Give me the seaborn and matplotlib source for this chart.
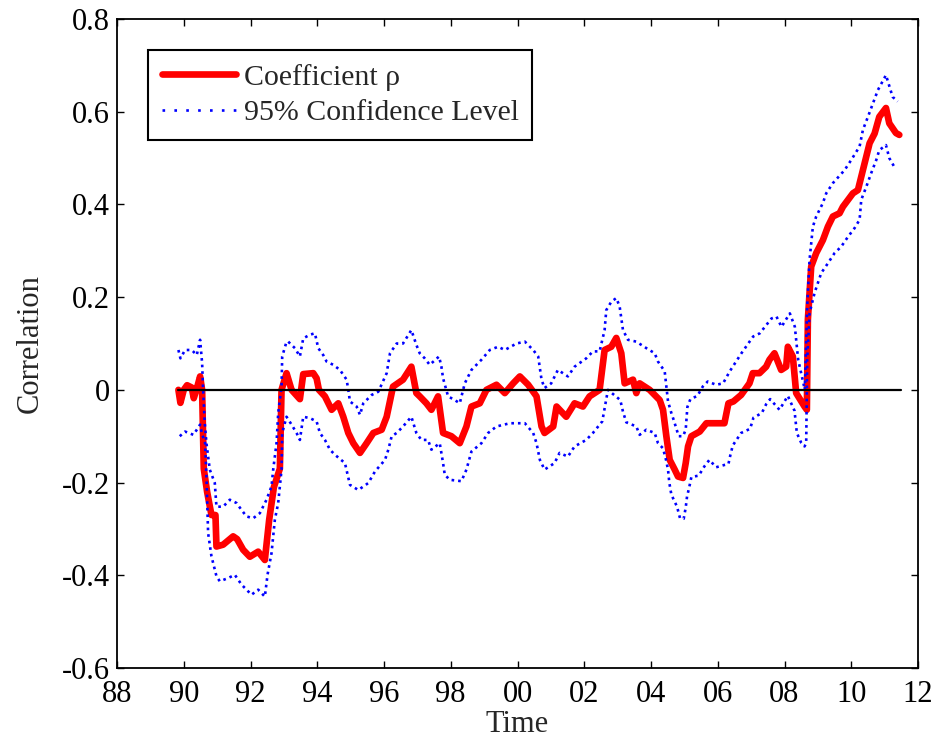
import numpy as np
import pandas as pd
import matplotlib
matplotlib.use("Agg")
import matplotlib.pyplot as plt
import seaborn as sns

# ---- data (years as two-digit continuous values: 100 = 2000) ----
rho_t = [89.84, 89.90, 90.00, 90.10, 90.24, 90.30, 90.40, 90.49, 90.55, 90.60, 90.70, 90.83, 90.95,
         90.98, 91.18, 91.48, 91.60, 91.78, 91.98, 92.23, 92.43, 92.56, 92.70, 92.88, 92.93, 93.08,
         93.23, 93.48, 93.58, 93.88, 93.98, 94.05, 94.23, 94.43, 94.63, 94.78, 94.93, 95.08, 95.28,
         95.48, 95.68, 95.93, 96.08, 96.27, 96.57, 96.82, 96.97, 97.07, 97.27, 97.42, 97.62, 97.77,
         98.02, 98.27, 98.47, 98.62, 98.87, 99.07, 99.37, 99.62, 99.87, 100.07, 100.32, 100.57,
         100.72, 100.81, 101.07, 101.17, 101.46, 101.71, 101.96, 102.16, 102.46, 102.61, 102.81,
         102.96, 103.11, 103.21, 103.46, 103.56, 103.66, 103.96, 104.26, 104.36, 104.46, 104.56,
         104.71, 104.81, 104.96, 105.04, 105.11, 105.21, 105.46, 105.66, 106.05, 106.20, 106.32,
         106.47, 106.70, 106.95, 107.05, 107.25, 107.45, 107.55, 107.70, 107.90, 108.05, 108.10,
         108.25, 108.35, 108.60, 108.67, 108.70, 108.80, 108.95, 109.15, 109.30, 109.45, 109.65,
         109.75, 110.05, 110.20, 110.35, 110.55, 110.70, 110.84, 111.04, 111.14, 111.34, 111.44]
rho_v = [0.000, -0.028, 0.000, 0.010, 0.005, -0.018, 0.005, 0.029, 0.000, -0.170, -0.220, -0.270, -0.270,
         -0.338, -0.334, -0.316, -0.322, -0.345, -0.360, -0.349, -0.367, -0.280, -0.210, -0.170, 0.000, 0.036,
         0.000, -0.020, 0.034, 0.036, 0.025, 0.000, -0.014, -0.043, -0.029, -0.058, -0.093, -0.115, -0.136,
         -0.115, -0.093, -0.086, -0.058, 0.007, 0.022, 0.050, -0.007, -0.014, -0.029, -0.043, -0.014, -0.093,
         -0.100, -0.115, -0.079, -0.036, -0.029, 0.000, 0.011, -0.007, 0.014, 0.029, 0.011, -0.014,
         -0.079, -0.093, -0.079, -0.036, -0.058, -0.029, -0.036, -0.014, 0.000, 0.086, 0.093,
         0.112, 0.079, 0.014, 0.022, -0.007, 0.014, 0.000, -0.022, -0.043, -0.100, -0.151,
         -0.172, -0.187, -0.190, -0.158, -0.122, -0.100, -0.090, -0.072, -0.072, -0.072, -0.029,
         -0.025, -0.011, 0.014, 0.036, 0.036, 0.050, 0.065, 0.079, 0.043, 0.050, 0.093,
         0.072, -0.007, -0.036, -0.043, 0.151, 0.266, 0.295, 0.323, 0.352, 0.374, 0.381,
         0.395, 0.424, 0.431, 0.474, 0.532, 0.553, 0.589, 0.608, 0.575, 0.554, 0.550]

upper_t = [89.84, 89.90, 90.04, 90.24, 90.39, 90.49, 90.52, 90.55, 90.58, 90.63, 90.68, 90.78, 90.93,
           90.98, 91.18, 91.38, 91.58, 91.73, 91.88, 92.08, 92.28, 92.48, 92.63, 92.68, 92.78, 92.83,
           92.93, 92.95, 93.08, 93.13, 93.33, 93.48, 93.58, 93.78, 93.93, 94.03, 94.18, 94.28, 94.48,
           94.68, 94.88, 94.93, 94.98, 95.18, 95.28, 95.38, 95.63, 95.83, 96.08, 96.18, 96.38, 96.57,
           96.82, 96.97, 97.07, 97.22, 97.37, 97.65, 97.72, 97.77, 97.92, 98.12, 98.27, 98.42, 98.62,
           98.92, 99.17, 99.42, 99.62, 99.97, 100.22, 100.47, 100.62, 100.67, 100.72, 100.81, 101.01,
           101.21, 101.51, 101.71, 102.06, 102.26, 102.46, 102.61, 102.66, 102.81, 102.96, 103.06,
           103.16, 103.31, 103.56, 103.86, 104.11, 104.21, 104.41, 104.51, 104.61, 104.68, 104.83,
           104.96, 105.04, 105.09, 105.18, 105.39, 105.55, 105.70, 105.95, 106.16, 106.36, 106.71,
           107.06, 107.26, 107.61, 107.76, 107.91, 108.16, 108.31, 108.41, 108.61, 108.68, 108.75,
           108.85, 108.95, 109.15, 109.25, 109.45, 109.80, 110.00, 110.25, 110.35, 110.50, 110.65,
           110.80, 111.04, 111.24, 111.39]
upper_v = [0.086, 0.068, 0.086, 0.086, 0.075, 0.108, 0.083, 0.058, 0.000, -0.072, -0.115, -0.172, -0.201,
           -0.252, -0.252, -0.237, -0.244, -0.259, -0.273, -0.277, -0.266, -0.237, -0.208, -0.172, -0.115, -0.050,
           0.007, 0.072, 0.104, 0.104, 0.090, 0.072, 0.111, 0.119, 0.122, 0.090, 0.075, 0.061, 0.054,
           0.043, 0.022, 0.000, -0.025, -0.036, -0.054, -0.029, -0.011, -0.004, 0.036, 0.079, 0.100, 0.100,
           0.129, 0.097, 0.079, 0.068, 0.054, 0.072, 0.050, 0.025, -0.014, -0.022, -0.029, 0.014, 0.043,
           0.065, 0.086, 0.093, 0.086, 0.100, 0.104, 0.086, 0.072, 0.047, 0.022, 0.004, 0.014,
           0.043, 0.029, 0.050, 0.068, 0.083, 0.083, 0.129, 0.172, 0.190, 0.198, 0.180,
           0.129, 0.108, 0.104, 0.090, 0.079, 0.061, 0.040, -0.025, -0.050, -0.065, -0.100,
           -0.100, -0.086, -0.037, -0.020, -0.013, 0.007, 0.018, 0.011, 0.014, 0.040, 0.079,
           0.115, 0.122, 0.154, 0.158, 0.136, 0.165, 0.136, 0.065, 0.000, 0.180, 0.280,
           0.352, 0.374, 0.403, 0.424, 0.446, 0.474, 0.496, 0.525, 0.561, 0.589, 0.618,
           0.647, 0.679, 0.632, 0.622]

lower_t = [89.88, 90.04, 90.29, 90.49, 90.54, 90.64, 90.68, 90.73, 90.83, 90.98, 91.08, 91.33, 91.53,
           91.73, 92.03, 92.23, 92.43, 92.51, 92.63, 92.73, 92.83, 92.93, 92.95, 93.08, 93.23, 93.38,
           93.48, 93.58, 93.78, 93.98, 94.08, 94.23, 94.38, 94.53, 94.83, 94.98, 95.23, 95.53, 95.73,
           96.03, 96.13, 96.23, 96.38, 96.57, 96.82, 96.97, 97.12, 97.32, 97.42, 97.67, 97.72, 97.77,
           97.82, 97.97, 98.32, 98.47, 98.62, 98.92, 99.12, 99.37, 99.77, 100.22, 100.47, 100.57,
           100.67, 100.81, 101.11, 101.26, 101.51, 101.71, 102.06, 102.26, 102.54, 102.71, 103.08,
           103.16, 103.26, 103.56, 103.66, 103.86, 104.11, 104.21, 104.36, 104.45, 104.51, 104.55,
           104.61, 104.78, 104.87, 104.98, 105.04, 105.08, 105.14, 105.21, 105.43, 105.60, 105.75,
           105.95, 106.20, 106.32, 106.38, 106.45, 106.70, 106.97, 107.07, 107.32, 107.45, 107.57,
           107.85, 108.10, 108.30, 108.37, 108.50, 108.60, 108.65, 108.68, 108.75, 108.90, 109.10,
           109.30, 109.50, 109.70, 109.90, 110.10, 110.25, 110.30, 110.45, 110.60, 110.75, 110.84,
           111.04, 111.14, 111.29]
lower_v = [-0.100, -0.090, -0.097, -0.075, -0.093, -0.115, -0.187, -0.309, -0.359, -0.402, -0.413, -0.406, -0.399,
           -0.420, -0.442, -0.431, -0.446, -0.399, -0.352, -0.280, -0.244, -0.172, -0.093, -0.058, -0.075, -0.093,
           -0.108, -0.058, -0.061, -0.068, -0.093, -0.108, -0.129, -0.140, -0.158, -0.205, -0.216, -0.201, -0.176,
           -0.151, -0.129, -0.100, -0.093, -0.079, -0.058, -0.093, -0.108, -0.108, -0.129, -0.115, -0.136, -0.158,
           -0.183, -0.194, -0.197, -0.172, -0.133, -0.115, -0.093, -0.079, -0.072, -0.072, -0.093, -0.115,
           -0.151, -0.172, -0.158, -0.136, -0.144, -0.122, -0.108, -0.093, -0.068, 0.000, -0.022,
           -0.047, -0.070, -0.079, -0.097, -0.086, -0.093, -0.115, -0.126, -0.151, -0.172, -0.201,
           -0.226, -0.252, -0.277, -0.278, -0.254, -0.230, -0.212, -0.188, -0.185, -0.165, -0.151,
           -0.167, -0.162, -0.160, -0.140, -0.120, -0.093, -0.084, -0.060, -0.050, -0.031, -0.020,
           -0.043, -0.013, -0.045, -0.093, -0.114, -0.122, -0.115, 0.065, 0.165, 0.209, 0.252,
           0.273, 0.295, 0.309, 0.330, 0.349, 0.367, 0.410, 0.438, 0.468, 0.496, 0.517,
           0.528, 0.500, 0.481]

zero_t = [89.84, 111.50]
zero_v = [0.0, 0.0]

xtick_vals = [88, 90, 92, 94, 96, 98, 100, 102, 104, 106, 108, 110, 112]
xtick_labels = ["88", "90", "92", "94", "96", "98", "00", "02", "04", "06", "08", "10", "12"]
ytick_vals = [-0.6, -0.4, -0.2, 0.0, 0.2, 0.4, 0.6, 0.8]
ytick_labels = ["-0.6", "-0.4", "-0.2", "0", "0.2", "0.4", "0.6", "0.8"]

# ---- style ----
sns.set_theme(style="ticks")
plt.rcParams["font.family"] = ["Liberation Serif", "DejaVu Serif"]
FS = 22
LFS = 21.5

fig = plt.figure(figsize=(9.32, 7.39), dpi=100)
ax = fig.add_axes([117 / 932, 71 / 739, 801 / 932, 649 / 739])

dotted = (0, (1.0, 1.5))
sns.lineplot(x=rho_t, y=rho_v, ax=ax, color="#ff0000", lw=4.8, sort=False,
             estimator=None, label="Coefficient ρ", zorder=2)
sns.lineplot(x=upper_t, y=upper_v, ax=ax, color="#0000ff", lw=1.9, sort=False,
             estimator=None, label="95% Confidence Level", zorder=3)
sns.lineplot(x=lower_t, y=lower_v, ax=ax, color="#0000ff", lw=1.9, sort=False,
             estimator=None, label="_nolegend_", zorder=3)
for ln in ax.lines[1:3]:
    ln.set_linestyle(dotted)
sns.lineplot(x=zero_t, y=zero_v, ax=ax, color="black", lw=1.6, sort=False,
             estimator=None, label="_nolegend_", zorder=4)

ax.set_xlim(88, 112)
ax.set_ylim(-0.6, 0.8)
ax.set_xticks(xtick_vals)
ax.set_xticklabels(xtick_labels)
ax.set_yticks(ytick_vals)
ax.set_yticklabels(ytick_labels)
ax.tick_params(axis="both", which="both", direction="in", length=5, width=1.0,
               top=True, right=True, labelsize=FS, colors="black")
ax.tick_params(axis="x", pad=9)
ax.tick_params(axis="y", pad=5)
for sp in ax.spines.values():
    sp.set_visible(True)
    sp.set_linewidth(1.3)
    sp.set_color("black")

ax.set_xlabel("Time", fontsize=FS, va="baseline")
ax.set_ylabel("Correlation", fontsize=FS)
ax.xaxis.set_label_coords(0.4994, -0.0986)
ax.yaxis.set_label_coords(-0.0905, 0.5)

handles, labels = ax.get_legend_handles_labels()
leg = ax.legend(handles, labels, loc="upper left", bbox_to_anchor=(0.039, 0.952),
                borderaxespad=0, fontsize=LFS, frameon=True, fancybox=False,
                edgecolor="black", framealpha=1, handlelength=2.5, handletextpad=0.25,
                labelspacing=0.3, borderpad=0.45)
leg.get_frame().set_linewidth(1.5)
for lh in leg.get_lines():
    if lh.get_color() == "#0000ff":
        lh.set_linestyle((0, (1.0, 3.5)))

fig.savefig("out.png", dpi=100, facecolor="white")
